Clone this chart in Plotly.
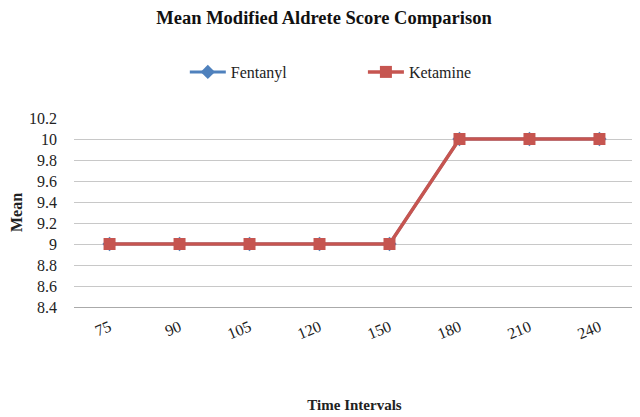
import plotly.graph_objects as go

time_intervals = ["75", "90", "105", "120", "150", "180", "210", "240"]
fentanyl = [9, 9, 9, 9, 9, 10, 10, 10]
ketamine = [9, 9, 9, 9, 9, 10, 10, 10]
y_ticks = [8.4, 8.6, 8.8, 9, 9.2, 9.4, 9.6, 9.8, 10, 10.2]

serif = "Liberation Serif"

fig = go.Figure()

# Fentanyl sits exactly under Ketamine in the original chart
fig.add_trace(go.Scatter(
    name="Fentanyl",
    x=time_intervals,
    y=fentanyl,
    mode="lines+markers",
    line=dict(color="#4F81BD", width=3),
    marker=dict(symbol="diamond", size=11, color="#4F81BD"),
    legend="legend",
))

fig.add_trace(go.Scatter(
    name="Ketamine",
    x=time_intervals,
    y=ketamine,
    mode="lines+markers",
    line=dict(color="#C65550", width=3.5),
    marker=dict(symbol="square", size=12, color="#C65550"),
    legend="legend2",
))

legend_y = (307 - 72) / 189

# page body has an 8px margin, so the figure is a bit smaller than the window
fig.update_layout(
    width=632,
    height=409,
    margin=dict(l=60, r=5, t=110, b=110),
    paper_bgcolor="white",
    plot_bgcolor="white",
    showlegend=True,
    font=dict(family=serif, size=15, color="#222"),
    title=dict(
        text="<b>Mean Modified Aldrete Score Comparison</b>",
        x=0.5, xanchor="center", y=1 - 10 / 409, yanchor="middle",
        font=dict(family=serif, size=18.5, color="#111"),
    ),
    legend=dict(
        x=(180 - 68) / 567, xanchor="left",
        y=legend_y, yanchor="middle",
        font=dict(family=serif, size=16),
        itemwidth=36,
        bgcolor="rgba(0,0,0,0)",
    ),
    legend2=dict(
        x=(360 - 68) / 567, xanchor="left",
        y=legend_y, yanchor="middle",
        font=dict(family=serif, size=16),
        itemwidth=36,
        bgcolor="rgba(0,0,0,0)",
    ),
    xaxis=dict(
        type="category",
        tickangle=-22,
        tickfont=dict(family=serif, size=16),
        showgrid=False,
        showline=True,
        linecolor="#aaa",
        linewidth=1,
        ticks="",
        ticklabelstandoff=4,
        title=dict(text="<b>Time Intervals</b>", font=dict(family=serif, size=15), standoff=58),
    ),
    yaxis=dict(
        range=[8.4, 10.2],
        tickvals=y_ticks,
        ticktext=[f"{v:g}" for v in y_ticks],
        tickfont=dict(family=serif, size=16),
        showgrid=True,
        gridcolor="#c8c8c8",
        gridwidth=1,
        zeroline=False,
        ticks="",
        ticklabelstandoff=16,
        title=dict(text="<b>Mean</b>", font=dict(family=serif, size=16), standoff=5),
    ),
)

fig.write_html("out.html")
